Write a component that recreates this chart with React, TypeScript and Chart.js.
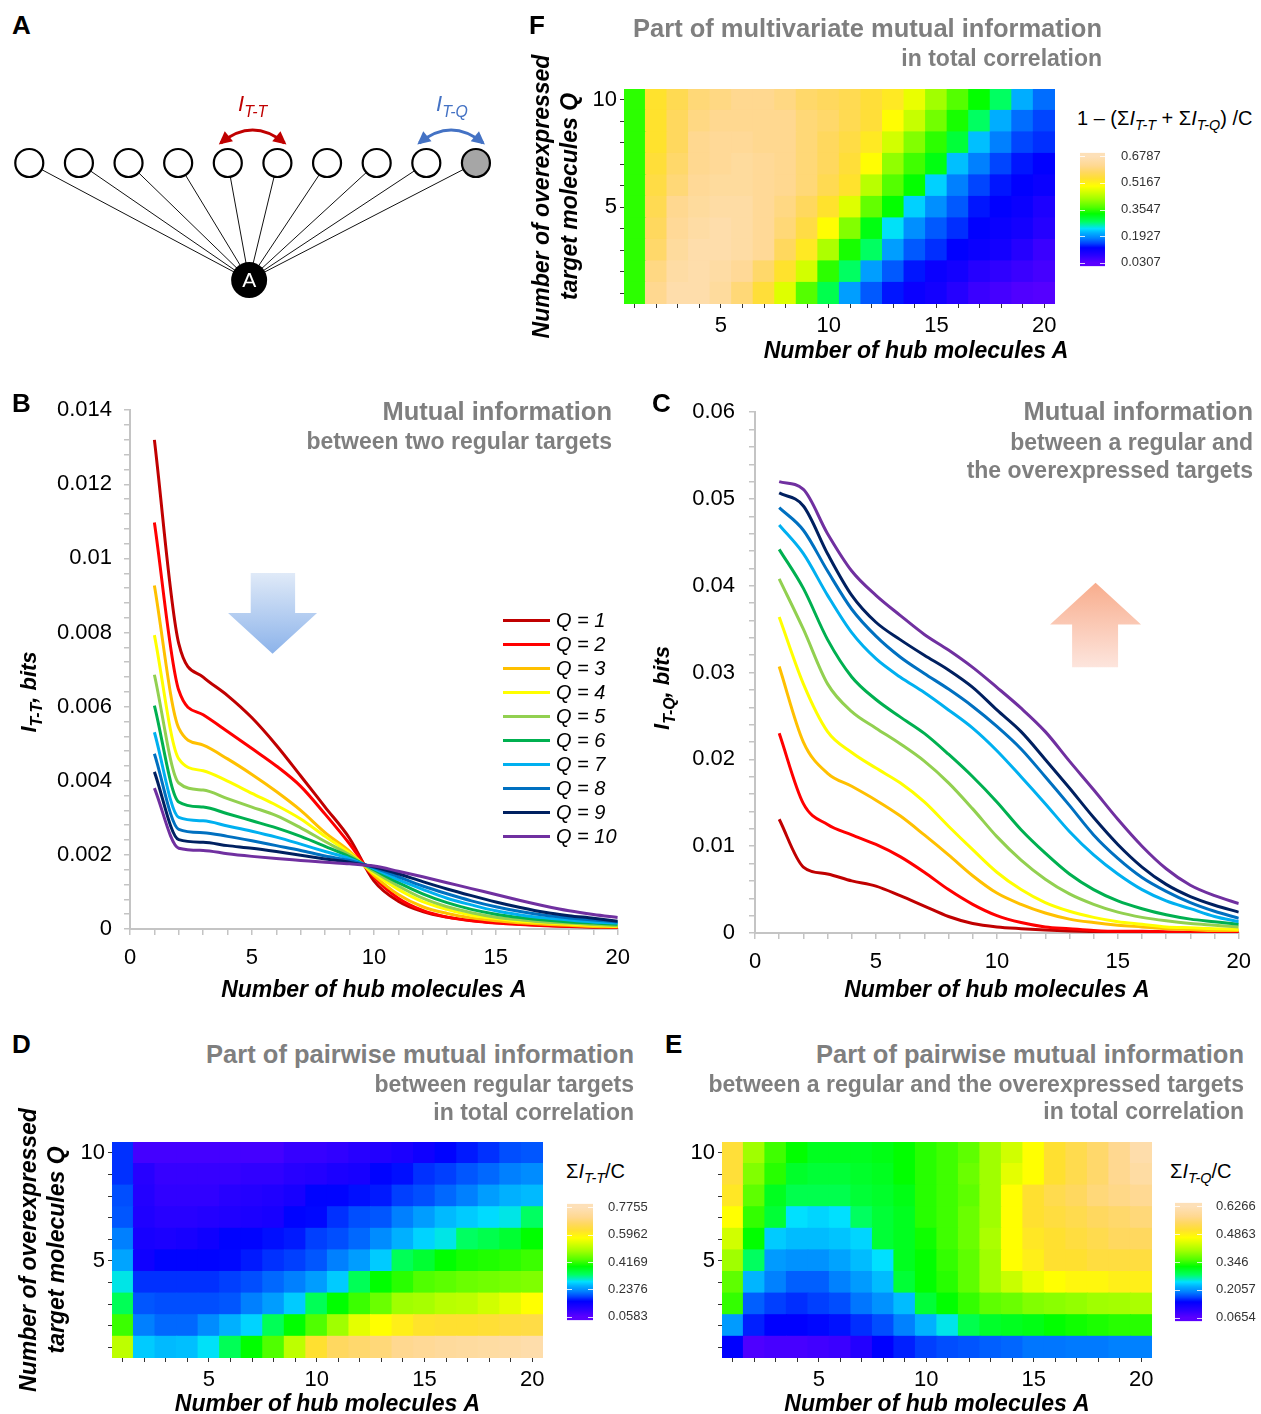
import React, { useEffect, useRef } from 'react';
import { Chart, registerables } from 'chart.js';

Chart.register(...registerables);

const FONT = '"Liberation Sans", Arial, Helvetica, sans-serif';
Chart.defaults.font.family = FONT;
Chart.defaults.color = '#000';

const PAGE_W = 1261;
const PAGE_H = 1414;

// ---------------- data ----------------
const A_VALUES = [1, 2, 3, 4, 5, 6, 7, 8, 9, 10, 11, 12, 13, 14, 15, 16, 17, 18, 19, 20];
const Q_VALUES = [1, 2, 3, 4, 5, 6, 7, 8, 9, 10];
const Q_LABELS = ['Q = 1', 'Q = 2', 'Q = 3', 'Q = 4', 'Q = 5', 'Q = 6', 'Q = 7', 'Q = 8', 'Q = 9', 'Q = 10'];
const SERIES_COLORS = ['#c00000', '#ff0000', '#ffc000', '#ffff00', '#92d050', '#00b050', '#00b0f0', '#0070c0', '#002060', '#7030a0'];

const LINE_X_TICKS = [0, 1, 2, 3, 4, 5, 6, 7, 8, 9, 10, 11, 12, 13, 14, 15, 16, 17, 18, 19, 20];
const LINE_X_LABELS = [0, 5, 10, 15, 20];
const B_Y_LABELS = [0, 0.002, 0.004, 0.006, 0.008, 0.01, 0.012, 0.014];
const B_Y_MINOR = 0.0004;
const C_Y_LABELS = [0, 0.01, 0.02, 0.03, 0.04, 0.05, 0.06];
const C_Y_MINOR = 0.002;
const HEAT_X_LABELS = [5, 10, 15, 20];
const HEAT_Y_LABELS = [5, 10];

// Panel B : I_T-T (bits) vs number of hub molecules A
const ITT_Q1 = [0.0132, 0.0077, 0.0068, 0.0063, 0.0057, 0.00496, 0.00413, 0.00329, 0.00245, 0.0013, 0.00075, 0.00047, 0.00032, 0.00023, 0.00017, 0.00013, 0.0001, 0.00007, 0.00005, 0.00004];
const ITT_Q2 = [0.01097, 0.00644, 0.00578, 0.00533, 0.00487, 0.0044, 0.00385, 0.0031, 0.0023, 0.0014, 0.00083, 0.0005, 0.00032, 0.00022, 0.00016, 0.00012, 0.00009, 0.00007, 0.00006, 0.00004];
const ITT_Q3 = [0.00927, 0.00542, 0.00496, 0.00459, 0.00417, 0.00371, 0.0032, 0.0026, 0.0021, 0.00145, 0.00093, 0.0006, 0.00042, 0.0003, 0.00022, 0.00017, 0.00013, 0.0001, 0.00007, 0.00006];
const ITT_Q4 = [0.00793, 0.00459, 0.00427, 0.00399, 0.00366, 0.00334, 0.00297, 0.0025, 0.00205, 0.0015, 0.00107, 0.00074, 0.00053, 0.00037, 0.00028, 0.00021, 0.00017, 0.00013, 0.0001, 0.00007];
const ITT_Q5 = [0.00686, 0.00394, 0.00375, 0.00352, 0.00329, 0.00306, 0.00273, 0.00236, 0.002, 0.00155, 0.00116, 0.00083, 0.0006, 0.00044, 0.00032, 0.00025, 0.00019, 0.00016, 0.00012, 0.00009];
const ITT_Q6 = [0.00603, 0.00343, 0.00329, 0.00311, 0.00292, 0.00273, 0.0025, 0.00223, 0.00195, 0.0016, 0.00125, 0.00095, 0.00071, 0.00053, 0.0004, 0.00031, 0.00024, 0.00019, 0.00016, 0.00013];
const ITT_Q7 = [0.00531, 0.00301, 0.00292, 0.00278, 0.00264, 0.00248, 0.00229, 0.00209, 0.0019, 0.00163, 0.00133, 0.00107, 0.00083, 0.00065, 0.00049, 0.00038, 0.0003, 0.00024, 0.00019, 0.00016];
const ITT_Q8 = [0.00473, 0.00269, 0.0026, 0.0025, 0.00238, 0.00225, 0.00212, 0.00197, 0.00185, 0.00166, 0.00141, 0.00116, 0.00095, 0.00076, 0.0006, 0.00047, 0.00037, 0.0003, 0.00024, 0.00019];
const ITT_Q9 = [0.00424, 0.00241, 0.00234, 0.00225, 0.00218, 0.00209, 0.00199, 0.00189, 0.0018, 0.00168, 0.00149, 0.00128, 0.00108, 0.0009, 0.00073, 0.00058, 0.00045, 0.00036, 0.00029, 0.00021];
const ITT_Q10 = [0.0038, 0.00218, 0.00212, 0.00203, 0.00196, 0.0019, 0.00185, 0.0018, 0.00176, 0.0017, 0.00156, 0.00141, 0.00125, 0.00109, 0.00093, 0.00077, 0.00062, 0.00049, 0.00039, 0.00031];
const ITT_SERIES = [ITT_Q1, ITT_Q2, ITT_Q3, ITT_Q4, ITT_Q5, ITT_Q6, ITT_Q7, ITT_Q8, ITT_Q9, ITT_Q10];

// Panel C : I_T-Q (bits)
const ITQ_Q1 = [0.0131, 0.0076, 0.0068, 0.006, 0.0054, 0.0043, 0.0031, 0.0019, 0.0011, 0.0007, 0.0005, 0.00035, 0.00024, 0.00016, 0.0001, 0.00007, 0.00005, 0.00003, 0.00002, 0.00001];
const ITQ_Q2 = [0.023, 0.0149, 0.0125, 0.0113, 0.0102, 0.0088, 0.007, 0.005, 0.0033, 0.002, 0.0012, 0.0007, 0.0005, 0.0003, 0.0002, 0.0002, 0.00015, 0.0001, 0.0001, 0.0001];
const ITQ_Q3 = [0.0307, 0.022, 0.0184, 0.0169, 0.0153, 0.0135, 0.0113, 0.009, 0.0066, 0.0046, 0.0033, 0.0023, 0.0016, 0.0012, 0.0009, 0.0007, 0.0005, 0.0004, 0.0003, 0.0003];
const ITQ_Q4 = [0.0364, 0.0287, 0.0232, 0.0208, 0.019, 0.0173, 0.0151, 0.0123, 0.0096, 0.007, 0.005, 0.0035, 0.0025, 0.0018, 0.0013, 0.001, 0.0007, 0.0006, 0.0005, 0.0004];
const ITQ_Q5 = [0.0408, 0.035, 0.0287, 0.0255, 0.0236, 0.0218, 0.0198, 0.0173, 0.0143, 0.0111, 0.0084, 0.0062, 0.0045, 0.0033, 0.0024, 0.0018, 0.0014, 0.0011, 0.0009, 0.0007];
const ITQ_Q6 = [0.0442, 0.0397, 0.0338, 0.0295, 0.0269, 0.0249, 0.023, 0.0206, 0.018, 0.0151, 0.0119, 0.0092, 0.0068, 0.005, 0.0037, 0.0028, 0.0021, 0.0016, 0.0013, 0.001];
const ITQ_Q7 = [0.047, 0.0437, 0.0389, 0.0346, 0.0316, 0.0295, 0.0277, 0.0257, 0.0236, 0.021, 0.018, 0.0149, 0.0117, 0.009, 0.0068, 0.005, 0.0037, 0.0028, 0.0019, 0.0013];
const ITQ_Q8 = [0.049, 0.0464, 0.0417, 0.0373, 0.0342, 0.0318, 0.0299, 0.0281, 0.0261, 0.0238, 0.0212, 0.018, 0.0147, 0.0113, 0.0086, 0.0064, 0.0048, 0.0035, 0.0025, 0.0017];
const ITQ_Q9 = [0.0507, 0.0492, 0.0437, 0.0389, 0.0358, 0.0338, 0.032, 0.0303, 0.0283, 0.0257, 0.0232, 0.02, 0.0167, 0.0133, 0.0102, 0.0076, 0.0056, 0.0042, 0.0032, 0.0024];
const ITQ_Q10 = [0.052, 0.0511, 0.046, 0.0417, 0.0389, 0.0366, 0.0344, 0.0326, 0.0306, 0.0283, 0.0259, 0.0232, 0.0198, 0.0165, 0.0131, 0.01, 0.0074, 0.0055, 0.0043, 0.0034];
const ITQ_SERIES = [ITQ_Q1, ITQ_Q2, ITQ_Q3, ITQ_Q4, ITQ_Q5, ITQ_Q6, ITQ_Q7, ITQ_Q8, ITQ_Q9, ITQ_Q10];

// Panel F : 1 - (sum I_T-T + sum I_T-Q)/C ; rows Q = 1..10, columns A = 1..20
const F_BAR_TICKS = [0.0307, 0.1927, 0.3547, 0.5167, 0.6787];
const F_CELLS = [
  [0.35, 0.62, 0.66, 0.66, 0.64, 0.60, 0.55, 0.47, 0.37, 0.29, 0.20, 0.16, 0.13, 0.11, 0.10, 0.08, 0.06, 0.05, 0.04, 0.035],
  [0.35, 0.61, 0.65, 0.66, 0.65, 0.63, 0.59, 0.54, 0.46, 0.35, 0.28, 0.20, 0.16, 0.13, 0.11, 0.10, 0.08, 0.07, 0.06, 0.05],
  [0.35, 0.59, 0.64, 0.66, 0.66, 0.65, 0.63, 0.58, 0.53, 0.43, 0.34, 0.28, 0.20, 0.16, 0.14, 0.12, 0.11, 0.10, 0.08, 0.06],
  [0.35, 0.58, 0.63, 0.65, 0.66, 0.65, 0.63, 0.60, 0.56, 0.50, 0.40, 0.32, 0.24, 0.19, 0.16, 0.14, 0.12, 0.11, 0.10, 0.08],
  [0.35, 0.57, 0.62, 0.64, 0.65, 0.65, 0.63, 0.61, 0.58, 0.54, 0.47, 0.38, 0.33, 0.23, 0.19, 0.16, 0.13, 0.12, 0.11, 0.09],
  [0.35, 0.56, 0.60, 0.63, 0.64, 0.64, 0.63, 0.62, 0.60, 0.57, 0.54, 0.44, 0.37, 0.33, 0.23, 0.18, 0.15, 0.13, 0.12, 0.11],
  [0.35, 0.55, 0.59, 0.62, 0.63, 0.64, 0.63, 0.62, 0.60, 0.58, 0.55, 0.50, 0.41, 0.36, 0.32, 0.22, 0.18, 0.15, 0.13, 0.12],
  [0.35, 0.54, 0.58, 0.62, 0.63, 0.63, 0.62, 0.62, 0.60, 0.58, 0.56, 0.53, 0.46, 0.40, 0.35, 0.30, 0.22, 0.18, 0.15, 0.14],
  [0.35, 0.54, 0.58, 0.61, 0.62, 0.62, 0.62, 0.62, 0.60, 0.59, 0.57, 0.55, 0.50, 0.45, 0.39, 0.34, 0.28, 0.21, 0.17, 0.15],
  [0.35, 0.54, 0.57, 0.60, 0.61, 0.62, 0.62, 0.61, 0.59, 0.58, 0.57, 0.55, 0.53, 0.48, 0.42, 0.37, 0.33, 0.28, 0.21, 0.17],
];

// Panel D : sum I_T-T / C
const D_BAR_TICKS = [0.0583, 0.2376, 0.4169, 0.5962, 0.7755];
const D_CELLS = [
  [0.515, 0.275, 0.265, 0.268, 0.29, 0.34, 0.388, 0.431, 0.515, 0.625, 0.668, 0.68, 0.69, 0.711, 0.72, 0.73, 0.735, 0.74, 0.745, 0.755],
  [0.42, 0.223, 0.21, 0.21, 0.232, 0.259, 0.28, 0.34, 0.388, 0.431, 0.489, 0.55, 0.575, 0.60, 0.62, 0.625, 0.625, 0.63, 0.64, 0.645],
  [0.34, 0.20, 0.195, 0.195, 0.195, 0.20, 0.223, 0.245, 0.275, 0.34, 0.388, 0.42, 0.45, 0.489, 0.495, 0.51, 0.515, 0.532, 0.55, 0.575],
  [0.295, 0.18, 0.18, 0.18, 0.18, 0.187, 0.195, 0.21, 0.223, 0.245, 0.275, 0.34, 0.388, 0.41, 0.431, 0.44, 0.45, 0.455, 0.46, 0.465],
  [0.25, 0.14, 0.16, 0.16, 0.16, 0.162, 0.17, 0.18, 0.187, 0.20, 0.223, 0.245, 0.275, 0.34, 0.36, 0.388, 0.40, 0.405, 0.41, 0.42],
  [0.223, 0.13, 0.125, 0.13, 0.14, 0.16, 0.16, 0.165, 0.17, 0.187, 0.195, 0.21, 0.232, 0.259, 0.28, 0.295, 0.334, 0.345, 0.36, 0.388],
  [0.20, 0.12, 0.11, 0.11, 0.115, 0.12, 0.125, 0.13, 0.16, 0.162, 0.18, 0.195, 0.20, 0.223, 0.245, 0.265, 0.275, 0.285, 0.295, 0.334],
  [0.195, 0.115, 0.10, 0.10, 0.10, 0.11, 0.115, 0.12, 0.13, 0.16, 0.16, 0.165, 0.17, 0.187, 0.195, 0.21, 0.223, 0.245, 0.259, 0.265],
  [0.18, 0.11, 0.094, 0.094, 0.094, 0.094, 0.10, 0.10, 0.11, 0.115, 0.125, 0.13, 0.16, 0.165, 0.18, 0.187, 0.20, 0.21, 0.223, 0.232],
  [0.18, 0.08, 0.08, 0.08, 0.08, 0.08, 0.08, 0.08, 0.094, 0.094, 0.10, 0.11, 0.116, 0.125, 0.14, 0.16, 0.17, 0.18, 0.195, 0.20],
];

// Panel E : sum I_T-Q / C
const E_BAR_TICKS = [0.0654, 0.2057, 0.346, 0.4863, 0.6266];
const E_CELLS = [
  [0.144, 0.075, 0.08, 0.08, 0.085, 0.09, 0.11, 0.144, 0.155, 0.166, 0.172, 0.175, 0.18, 0.183, 0.19, 0.19, 0.192, 0.192, 0.195, 0.195],
  [0.21, 0.155, 0.144, 0.144, 0.146, 0.15, 0.16, 0.172, 0.195, 0.223, 0.25, 0.29, 0.305, 0.31, 0.315, 0.324, 0.33, 0.335, 0.34, 0.34],
  [0.345, 0.18, 0.166, 0.16, 0.166, 0.172, 0.19, 0.205, 0.228, 0.30, 0.324, 0.345, 0.365, 0.372, 0.385, 0.39, 0.395, 0.402, 0.405, 0.41],
  [0.365, 0.225, 0.195, 0.18, 0.18, 0.195, 0.21, 0.228, 0.30, 0.324, 0.34, 0.365, 0.402, 0.43, 0.455, 0.47, 0.48, 0.48, 0.49, 0.49],
  [0.402, 0.282, 0.21, 0.205, 0.205, 0.215, 0.228, 0.245, 0.31, 0.324, 0.345, 0.365, 0.402, 0.47, 0.49, 0.509, 0.509, 0.52, 0.52, 0.52],
  [0.436, 0.324, 0.235, 0.228, 0.228, 0.232, 0.24, 0.30, 0.31, 0.33, 0.35, 0.372, 0.41, 0.47, 0.50, 0.509, 0.52, 0.53, 0.542, 0.542],
  [0.47, 0.345, 0.30, 0.245, 0.24, 0.245, 0.282, 0.30, 0.31, 0.34, 0.35, 0.372, 0.402, 0.47, 0.509, 0.52, 0.53, 0.542, 0.55, 0.56],
  [0.50, 0.365, 0.31, 0.29, 0.29, 0.29, 0.30, 0.305, 0.315, 0.34, 0.35, 0.365, 0.402, 0.47, 0.509, 0.53, 0.542, 0.56, 0.57, 0.58],
  [0.515, 0.385, 0.34, 0.305, 0.30, 0.30, 0.305, 0.31, 0.324, 0.34, 0.35, 0.372, 0.402, 0.45, 0.47, 0.509, 0.53, 0.55, 0.576, 0.60],
  [0.515, 0.402, 0.35, 0.324, 0.31, 0.31, 0.31, 0.315, 0.324, 0.34, 0.35, 0.365, 0.402, 0.436, 0.47, 0.509, 0.53, 0.55, 0.576, 0.61],
];

// Panel A : network nodes
const TARGET_X = [1, 2, 3, 4, 5, 6, 7, 8, 9, 10];
const TARGET_Y = 1;
const TARGET_FILL = ['#ffffff', '#ffffff', '#ffffff', '#ffffff', '#ffffff', '#ffffff', '#ffffff', '#ffffff', '#ffffff', '#a6a6a6'];
const HUB_X = 5.43;
const HUB_Y = 0;
const PAIR_ARROWS = [
  { from: 5, to: 6, color: '#c00000' },
  { from: 9, to: 10, color: '#4472c4' },
];

// ---------------- colormap ----------------
const CMAP_STOPS: [number, string][] = [
  [0.0, '#5a00ff'], [0.07, '#2800ff'], [0.14, '#0000ff'], [0.18, '#0040ff'], [0.23, '#0080ff'],
  [0.28, '#00b0ff'], [0.32, '#00e0ff'], [0.385, '#00ff60'], [0.46, '#00ff00'], [0.52, '#50ff00'],
  [0.6, '#a0ff00'], [0.66, '#d0ff00'], [0.72, '#ffff00'], [0.79, '#ffe030'], [0.85, '#ffd860'],
  [0.91, '#ffd890'], [1.0, '#fde0b8'],
];
function hexRgb(h: string) {
  const n = parseInt(h.slice(1), 16);
  return [(n >> 16) & 255, (n >> 8) & 255, n & 255];
}
function cmap(t: number) {
  const tt = Math.max(0, Math.min(1, t));
  for (let i = 1; i < CMAP_STOPS.length; i++) {
    const [t1, c1] = CMAP_STOPS[i];
    if (tt <= t1) {
      const [t0, c0] = CMAP_STOPS[i - 1];
      const f = (tt - t0) / (t1 - t0);
      const a = hexRgb(c0), b = hexRgb(c1);
      return `rgb(${Math.round(a[0] + (b[0] - a[0]) * f)},${Math.round(a[1] + (b[1] - a[1]) * f)},${Math.round(a[2] + (b[2] - a[2]) * f)})`;
    }
  }
  return CMAP_STOPS[CMAP_STOPS.length - 1][1];
}

const near = (list: number[], v: number) => list.some((l) => Math.abs(l - v) < 1e-7);

// ---------------- plugins ----------------
const blockArrowPlugin = {
  id: 'blockArrow',
  beforeDatasetsDraw(chart: any, _args: any, opts: any) {
    const a = opts && opts.arrow;
    if (!a) return;
    const { ctx } = chart;
    const x = chart.scales.x, y = chart.scales.y;
    const hl = x.getPixelForValue(a.headX[0]), hr = x.getPixelForValue(a.headX[1]);
    const sl = x.getPixelForValue(a.shaftX[0]), sr = x.getPixelForValue(a.shaftX[1]);
    const ye = y.getPixelForValue(a.shaftEnd), yb = y.getPixelForValue(a.headBase), yt = y.getPixelForValue(a.tip);
    const cx = (hl + hr) / 2;
    const g = ctx.createLinearGradient(0, ye, 0, yt);
    g.addColorStop(0, a.colors[0]);
    g.addColorStop(1, a.colors[1]);
    ctx.save();
    ctx.beginPath();
    ctx.moveTo(sl, ye); ctx.lineTo(sr, ye); ctx.lineTo(sr, yb); ctx.lineTo(hr, yb);
    ctx.lineTo(cx, yt); ctx.lineTo(hl, yb); ctx.lineTo(sl, yb); ctx.closePath();
    ctx.fillStyle = g;
    ctx.fill();
    ctx.restore();
  },
};

function arrowHead(ctx: any, tx: number, ty: number, dx: number, dy: number, len: number, w: number) {
  const L = Math.hypot(dx, dy);
  const ux = dx / L, uy = dy / L;
  const bx = tx - ux * len, by = ty - uy * len;
  ctx.beginPath();
  ctx.moveTo(tx, ty);
  ctx.lineTo(bx - uy * w, by + ux * w);
  ctx.lineTo(bx + uy * w, by - ux * w);
  ctx.closePath();
  ctx.fill();
}

const networkPlugin = {
  id: 'network',
  afterDatasetsDraw(chart: any) {
    const { ctx } = chart;
    const x = chart.scales.x, y = chart.scales.y;
    ctx.save();
    ctx.fillStyle = '#ffffff';
    ctx.font = `21px ${FONT}`;
    ctx.textAlign = 'center';
    ctx.textBaseline = 'middle';
    ctx.fillText('A', x.getPixelForValue(HUB_X), y.getPixelForValue(HUB_Y) + 1);
    for (const ar of PAIR_ARROWS) {
      const x1 = x.getPixelForValue(ar.from) - 7;
      const x2 = x.getPixelForValue(ar.to) + 7;
      const y0 = y.getPixelForValue(TARGET_Y) - 20;
      const cx = (x1 + x2) / 2, cy = y0 - 26;
      ctx.strokeStyle = ar.color;
      ctx.fillStyle = ar.color;
      ctx.lineWidth = 3;
      ctx.beginPath();
      ctx.moveTo(x1, y0);
      ctx.quadraticCurveTo(cx, cy, x2, y0);
      ctx.stroke();
      arrowHead(ctx, x1 - 2, y0 + 1.5, x1 - cx, y0 - cy, 13, 6.5);
      arrowHead(ctx, x2 + 2, y0 + 1.5, x2 - cx, y0 - cy, 13, 6.5);
    }
    ctx.restore();
  },
};

// ---------------- configs ----------------
function networkConfig() {
  const edges = TARGET_X.map((tx) => ({
    type: 'scatter',
    data: [{ x: tx, y: TARGET_Y }, { x: HUB_X, y: HUB_Y }],
    showLine: true,
    borderColor: '#111',
    borderWidth: 1,
    pointRadius: 0,
    order: 5,
  }));
  return {
    type: 'scatter',
    data: {
      datasets: [
        {
          data: TARGET_X.map((tx) => ({ x: tx, y: TARGET_Y })),
          pointRadius: 14,
          pointBorderWidth: 2.2,
          pointBorderColor: '#000',
          pointBackgroundColor: TARGET_FILL,
          order: 0,
          clip: false,
        },
        {
          data: [{ x: HUB_X, y: HUB_Y }],
          pointRadius: 18,
          pointBorderWidth: 0,
          pointBackgroundColor: '#000',
          pointBorderColor: '#000',
          order: 0,
          clip: false,
        },
        ...edges,
      ],
    },
    options: {
      responsive: false,
      animation: false,
      events: [],
      layout: { padding: 0, autoPadding: false },
      plugins: { legend: { display: false }, tooltip: { enabled: false } },
      scales: {
        x: { type: 'linear', display: false, min: 0.41, max: 10.888 },
        y: { type: 'linear', display: false, min: -0.256, max: 1.709 },
      },
    },
    plugins: [networkPlugin],
  };
}

function lineConfig(series: number[][], yLabels: number[], yMinor: number, geo: any, arrow: any) {
  const yMax = yLabels[yLabels.length - 1];
  const nMinor = Math.round(yMax / yMinor);
  const yTicks = Array.from({ length: nMinor + 1 }, (_, i) => +(i * yMinor).toFixed(6));
  const axisGray = '#c4c4c4';
  return {
    type: 'line',
    data: {
      datasets: series.map((vals, i) => ({
        label: Q_LABELS[i],
        data: vals.map((v, j) => ({ x: A_VALUES[j], y: v })),
        borderColor: SERIES_COLORS[i],
        backgroundColor: SERIES_COLORS[i],
        borderWidth: 3,
        pointRadius: 0,
        cubicInterpolationMode: 'monotone',
        fill: false,
        order: series.length - i,
      })),
    },
    options: {
      responsive: false,
      animation: false,
      events: [],
      layout: { padding: { left: 0, top: geo.padTop, right: geo.padRight, bottom: 0 }, autoPadding: false },
      plugins: { legend: { display: false }, tooltip: { enabled: false }, blockArrow: { arrow } },
      scales: {
        x: {
          type: 'linear',
          min: 0,
          max: 20,
          afterBuildTicks: (s: any) => { s.ticks = LINE_X_TICKS.map((v) => ({ value: v })); },
          ticks: {
            autoSkip: false, maxRotation: 0, font: { size: 22 }, color: '#000', padding: geo.xPad,
            callback: (v: any) => (near(LINE_X_LABELS, v) ? String(v) : ''),
          },
          grid: { drawOnChartArea: false, drawTicks: true, tickLength: 6, color: axisGray, lineWidth: 1.5 },
          border: { display: true, color: axisGray, width: 2 },
          title: {
            display: true, text: 'Number of hub molecules A', color: '#000',
            font: { size: 23, weight: 'bold', style: 'italic' }, padding: 0,
          },
          afterFit: (s: any) => { s.height = geo.xH; },
        },
        y: {
          type: 'linear',
          min: 0,
          max: yMax,
          afterBuildTicks: (s: any) => { s.ticks = yTicks.map((v) => ({ value: v })); },
          ticks: {
            autoSkip: false, font: { size: 22 }, color: '#000', padding: geo.yPad,
            callback: (v: any) => (near(yLabels, v) ? String(+(+v).toFixed(4)) : ''),
          },
          grid: { drawOnChartArea: false, drawTicks: true, tickLength: 6, color: axisGray, lineWidth: 1.5 },
          border: { display: true, color: axisGray, width: 2 },
          afterFit: (s: any) => { s.width = geo.yW; },
        },
      },
    },
    plugins: [blockArrowPlugin],
  };
}

function heatConfig(rows: number[][], barTicks: number[], geo: any) {
  const lo = barTicks[0], hi = barTicks[barTicks.length - 1];
  return {
    type: 'bar',
    data: {
      datasets: Q_VALUES.map((q, qi) => ({
        label: Q_LABELS[qi],
        data: A_VALUES.map((a) => ({ x: a, y: [q - 0.5, q + 0.5] })),
        backgroundColor: rows[qi].map((v) => cmap((v - lo) / (hi - lo))),
        borderWidth: 0,
        grouped: false,
        barPercentage: 1,
        categoryPercentage: 1,
        inflateAmount: 0.6,
      })),
    },
    options: {
      responsive: false,
      animation: false,
      events: [],
      layout: { padding: { left: 0, top: geo.padTop, right: geo.padRight, bottom: 0 }, autoPadding: false },
      plugins: { legend: { display: false }, tooltip: { enabled: false } },
      scales: {
        x: {
          type: 'linear',
          min: 0.5,
          max: 20.5,
          offset: false,
          afterBuildTicks: (s: any) => { s.ticks = A_VALUES.map((v) => ({ value: v })); },
          ticks: {
            autoSkip: false, maxRotation: 0, font: { size: 22 }, color: '#000', padding: 5,
            callback: (v: any) => (near(HEAT_X_LABELS, v) ? String(v) : ''),
          },
          grid: { offset: false, drawOnChartArea: false, drawTicks: true, tickLength: 4, color: '#333' },
          border: { display: false },
          title: {
            display: geo.xTitle, text: 'Number of hub molecules A', color: '#000',
            font: { size: 23, weight: 'bold', style: 'italic' }, padding: { top: 0, bottom: 2 },
          },
          afterFit: (s: any) => { s.height = geo.xH; },
        },
        y: {
          type: 'linear',
          min: 0.5,
          max: 10.5,
          offset: false,
          afterBuildTicks: (s: any) => { s.ticks = Q_VALUES.map((v) => ({ value: v })); },
          ticks: {
            autoSkip: false, font: { size: 22 }, color: '#000', padding: 3,
            callback: (v: any) => (near(HEAT_Y_LABELS, v) ? String(v) : ''),
          },
          grid: { offset: false, drawOnChartArea: false, drawTicks: true, tickLength: 4, color: '#333' },
          border: { display: false },
          title: {
            display: geo.yTitle, text: ['Number of overexpressed', 'target molecules Q'], color: '#000',
            font: { size: 23, weight: 'bold', style: 'italic', lineHeight: 1.2 }, padding: { top: geo.yTitlePad, bottom: 0 },
          },
          afterFit: (s: any) => { s.width = geo.yW; },
        },
      },
    },
  };
}

function colorbarConfig(barTicks: number[], geo: any) {
  const lo = barTicks[0], hi = barTicks[barTicks.length - 1];
  const ext = (hi - lo) * 0.033;
  const dashPlugin = {
    id: 'cbDash',
    afterDatasetsDraw(chart: any) {
      const { ctx, chartArea } = chart;
      const y = chart.scales.y;
      ctx.save();
      ctx.strokeStyle = 'rgba(255,255,255,0.8)';
      ctx.lineWidth = 1;
      barTicks.forEach((v) => {
        const py = Math.round(y.getPixelForValue(v)) + 0.5;
        ctx.beginPath();
        ctx.moveTo(chartArea.left, py); ctx.lineTo(chartArea.left + 5, py);
        ctx.moveTo(chartArea.right - 5, py); ctx.lineTo(chartArea.right, py);
        ctx.stroke();
      });
      ctx.restore();
    },
  };
  return {
    type: 'bar',
    data: {
      labels: [''],
      datasets: [{
        data: [[lo - ext, hi + ext]],
        backgroundColor: (c: any) => {
          const chart = c.chart;
          if (!chart.chartArea) return '#ffffff';
          const y = chart.scales.y;
          const g = chart.ctx.createLinearGradient(0, y.getPixelForValue(lo), 0, y.getPixelForValue(hi));
          CMAP_STOPS.forEach(([t, col]) => g.addColorStop(t, col));
          return g;
        },
        borderWidth: 0,
        barPercentage: 1,
        categoryPercentage: 1,
      }],
    },
    options: {
      responsive: false,
      animation: false,
      events: [],
      layout: { padding: { left: geo.padLeft, top: geo.padTop, bottom: geo.padBottom, right: 0 }, autoPadding: false },
      plugins: { legend: { display: false }, tooltip: { enabled: false } },
      scales: {
        x: { display: false },
        y: {
          position: 'right',
          min: lo - ext,
          max: hi + ext,
          afterBuildTicks: (s: any) => { s.ticks = barTicks.map((v) => ({ value: v })); },
          ticks: { autoSkip: false, font: { size: 13 }, color: '#333', padding: geo.labelPad, callback: (v: any) => String(v) },
          grid: { display: false },
          border: { display: false },
          afterFit: (s: any) => { s.width = geo.axisW; },
        },
      },
    },
    plugins: [dashPlugin],
  };
}

// ---------------- components ----------------
function ChartCanvas({ left, top, width, height, make }: any) {
  const ref = useRef<HTMLCanvasElement | null>(null);
  useEffect(() => {
    if (!ref.current) return;
    const chart = new Chart(ref.current, make());
    return () => chart.destroy();
  }, []);
  return (
    <div style={{ position: 'absolute', left, top, width, height }}>
      <canvas ref={ref} width={width} height={height} />
    </div>
  );
}

function Label({ x, y, size, align = 'left', bold = false, italic = false, color = '#000', k = 0.53, children }: any) {
  const style: any = {
    position: 'absolute', top: y - size * k, fontSize: size, lineHeight: `${size}px`,
    fontWeight: bold ? 700 : 400, fontStyle: italic ? 'italic' : 'normal', color,
    whiteSpace: 'nowrap', fontFamily: FONT,
  };
  if (align === 'right') style.right = PAGE_W - x;
  else if (align === 'center') { style.left = x; style.transform = 'translateX(-50%)'; }
  else style.left = x;
  return <div style={style}>{children}</div>;
}

const Sub = ({ children }: any) => (
  <span style={{ fontSize: '0.72em', verticalAlign: '-0.38em' }}>{children}</span>
);

function RotTitle({ x, y, children }: any) {
  return (
    <div style={{
      position: 'absolute', left: x, top: y, transform: 'translate(-50%,-50%) rotate(-90deg)',
      whiteSpace: 'nowrap', fontSize: 22, fontWeight: 700, fontStyle: 'italic', fontFamily: FONT, lineHeight: '26px',
    }}>{children}</div>
  );
}

const GRAY = '#7f7f7f';

const B_ARROW = { headX: [4.02, 7.67], shaftX: [4.95, 6.77], shaftEnd: 0.00961, headBase: 0.00853, tip: 0.00743, colors: ['#e0eaf8', '#8cb3ea'] };
const C_ARROW = { headX: [12.2, 15.96], shaftX: [13.11, 15.01], shaftEnd: 0.03063, headBase: 0.03554, tip: 0.04034, colors: ['#fde5dd', '#f8ad8d'] };

export default function App() {
  return (
    <div style={{ position: 'absolute', left: 0, top: 0, width: PAGE_W, height: PAGE_H, overflow: 'hidden', background: '#fff', fontFamily: FONT }}>
      {/* Panel A */}
      <ChartCanvas left={0} top={80} width={520} height={230} make={networkConfig} />
      <Label x={238} y={105} size={22} italic color="#c00000">I<Sub>T-T</Sub></Label>
      <Label x={436} y={105} size={22} italic color="#4472c4">I<Sub>T-Q</Sub></Label>

      {/* Panel F */}
      <ChartCanvas left={520} top={40} width={545} height={330}
        make={() => heatConfig(F_CELLS, F_BAR_TICKS, { yW: 104, padTop: 49, padRight: 10, xH: 66, xTitle: false, yTitle: true, yTitlePad: 9.2 })} />
      <ChartCanvas left={1073} top={137} width={102} height={145}
        make={() => colorbarConfig(F_BAR_TICKS, { padLeft: 7, padTop: 8, padBottom: 9, axisW: 70, labelPad: 8 })} />
      <Label x={916} y={351} size={23} bold italic align="center">Number of hub molecules A</Label>
      <Label x={1077} y={119} size={20}>1 – (Σ<i>I</i><Sub><i>T-T</i></Sub> + Σ<i>I</i><Sub><i>T-Q</i></Sub>) /C</Label>
      <Label x={1102} y={30} size={25.5} bold color={GRAY} align="right">Part of multivariate mutual information</Label>
      <Label x={1102} y={59} size={23} bold color={GRAY} align="right">in total correlation</Label>

      {/* Panel B */}
      <ChartCanvas left={0} top={385} width={640} height={619}
        make={() => lineConfig(ITT_SERIES, B_Y_LABELS, B_Y_MINOR, { padTop: 24, padRight: 17, yW: 130, yPad: 12, xH: 75, xPad: 10 }, B_ARROW)} />
      <RotTitle x={33} y={692}>I<Sub>T-T</Sub>, bits</RotTitle>
      <Label x={612} y={413} size={25.5} bold color={GRAY} align="right">Mutual information</Label>
      <Label x={612} y={442} size={23} bold color={GRAY} align="right">between two regular targets</Label>
      {Q_LABELS.map((lab, i) => (
        <div key={lab} style={{ position: 'absolute', left: 503, top: 620 + 24 * i - 12, height: 24, display: 'flex', alignItems: 'center' }}>
          <div style={{ width: 47, height: 3, background: SERIES_COLORS[i] }} />
          <div style={{ marginLeft: 6, fontStyle: 'italic', fontSize: 20, lineHeight: '24px', fontFamily: FONT, color: '#000' }}>{lab}</div>
        </div>
      ))}

      {/* Panel C */}
      <ChartCanvas left={640} top={385} width={621} height={619}
        make={() => lineConfig(ITQ_SERIES, C_Y_LABELS, C_Y_MINOR, { padTop: 23, padRight: 21, yW: 115, yPad: 14, xH: 71, xPad: 10 }, C_ARROW)} />
      <RotTitle x={666} y={688}>I<Sub>T-Q</Sub>, bits</RotTitle>
      <Label x={1253} y={413} size={25.5} bold color={GRAY} align="right">Mutual information</Label>
      <Label x={1253} y={443} size={23} bold color={GRAY} align="right">between a regular and</Label>
      <Label x={1253} y={471} size={23} bold color={GRAY} align="right">the overexpressed targets</Label>

      {/* Panel D */}
      <ChartCanvas left={0} top={1090} width={555} height={330}
        make={() => heatConfig(D_CELLS, D_BAR_TICKS, { yW: 112, padTop: 52, padRight: 12, xH: 62, xTitle: true, yTitle: true, yTitlePad: 16.2 })} />
      <ChartCanvas left={560} top={1189} width={105} height={146}
        make={() => colorbarConfig(D_BAR_TICKS, { padLeft: 7, padTop: 8, padBottom: 9, axisW: 72, labelPad: 7 })} />
      <Label x={566} y={1172} size={20}>Σ<i>I</i><Sub><i>T-T</i></Sub>/C</Label>
      <Label x={634} y={1056} size={25.5} bold color={GRAY} align="right">Part of pairwise mutual information</Label>
      <Label x={634} y={1085} size={23} bold color={GRAY} align="right">between regular targets</Label>
      <Label x={634} y={1113} size={23} bold color={GRAY} align="right">in total correlation</Label>

      {/* Panel E */}
      <ChartCanvas left={610} top={1090} width={552} height={330}
        make={() => heatConfig(E_CELLS, E_BAR_TICKS, { yW: 112, padTop: 52, padRight: 10, xH: 62, xTitle: true, yTitle: false, yTitlePad: 0 })} />
      <ChartCanvas left={1168} top={1189} width={93} height={146}
        make={() => colorbarConfig(E_BAR_TICKS, { padLeft: 7, padTop: 8, padBottom: 9, axisW: 59, labelPad: 6 })} />
      <Label x={1170} y={1172} size={20}>Σ<i>I</i><Sub><i>T-Q</i></Sub>/C</Label>
      <Label x={1244} y={1056} size={25.5} bold color={GRAY} align="right">Part of pairwise mutual information</Label>
      <Label x={1244} y={1085} size={23} bold color={GRAY} align="right">between a regular and the overexpressed targets</Label>
      <Label x={1244} y={1112} size={23} bold color={GRAY} align="right">in total correlation</Label>

      {/* Panel letters */}
      <Label x={12} y={25} size={26} bold k={0.49}>A</Label>
      <Label x={529} y={25} size={26} bold k={0.49}>F</Label>
      <Label x={12} y={403} size={26} bold k={0.49}>B</Label>
      <Label x={652} y={403} size={26} bold k={0.49}>C</Label>
      <Label x={12} y={1044} size={26} bold k={0.49}>D</Label>
      <Label x={665} y={1044} size={26} bold k={0.49}>E</Label>
    </div>
  );
}
